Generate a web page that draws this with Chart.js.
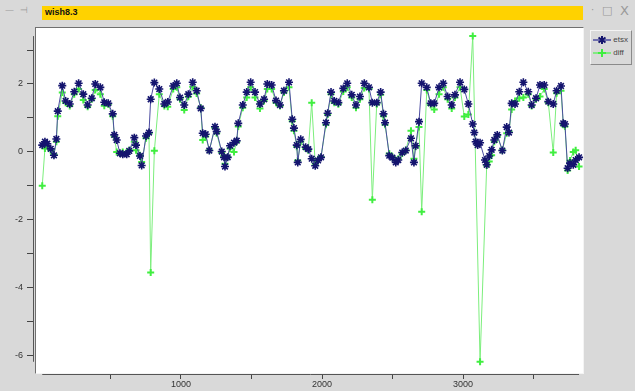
<!DOCTYPE html>
<html>
<head>
<meta charset="utf-8">
<script src="https://cdn.jsdelivr.net/npm/chart.js@4.4.1/dist/chart.umd.min.js"></script>
<style>
  html, body { margin:0; padding:0; }
  body { width:635px; height:391px; background:#d9d9d9; position:relative; overflow:hidden;
         font-family:"Liberation Sans Narrow","Arial Narrow","Liberation Sans",sans-serif; }
  #titlebar { position:absolute; left:42px; top:6px; width:541px; height:14px; background:#ffd200; }
  #titlebar span { position:absolute; left:3px; top:1px; font:bold 9px "Liberation Sans",sans-serif; color:#111; }
  .ctl { position:absolute; color:#9a9a9a; font-family:"DejaVu Sans",sans-serif; }
  #plotbg { position:absolute; left:35px; top:27px; width:547px; height:345px; background:#fff;
            border-left:1px solid #707070; border-top:1px solid #707070;
            border-right:1px solid #f4f4f4; border-bottom:1px solid #f4f4f4; }
  #legend { position:absolute; left:590px; top:30px; width:40px; height:33px;
            border-left:1px solid #f4f4f4; border-top:1px solid #f4f4f4;
            border-right:1px solid #8a8a8a; border-bottom:1px solid #8a8a8a; font-size:8px; color:#444; }
  #legend div { position:absolute; left:2px; height:10px; line-height:10px; }
  #legend svg { vertical-align:middle; }
  canvas { position:absolute; left:0; top:0; }
</style>
</head>
<body>
<div class="ctl" style="left:5px;top:5px;font-size:9px">&#8212;</div>
<div class="ctl" style="left:20px;top:5px;font-size:9px">&#8867;</div>
<div id="titlebar"><span>wish8.3</span></div>
<div class="ctl" style="left:591px;top:4px;font-size:10px">&#183;</div>
<div class="ctl" style="left:602px;top:4px;font-size:11px">&#9633;</div>
<div class="ctl" style="left:620px;top:3px;font-size:13px">X</div>
<div id="plotbg"></div>
<div id="legend">
  <div style="top:4px"><svg width="18" height="10"><line x1="0" y1="5" x2="18" y2="5" stroke="#4b4ba0" stroke-width="1.5"/><path d="M9 1 V9 M5.5 2.5 L12.5 7.5 M12.5 2.5 L5.5 7.5" stroke="#14146e" stroke-width="2"/></svg> etsx</div>
  <div style="top:17px"><svg width="18" height="10"><line x1="0" y1="5" x2="18" y2="5" stroke="#66ee66" stroke-width="1.5"/><path d="M9 1 V9 M5 5 H13" stroke="#40ee40" stroke-width="2"/></svg> diff</div>
</div>
<canvas id="mycanvas" width="635" height="391"></canvas>
<script>
// sample positions shared by both series
var xs = [16, 35, 52, 76, 99, 116, 126, 158, 182, 211, 243, 274, 307, 338, 367, 392, 428, 456, 484, 516,
          527, 544, 567, 587, 615, 633, 669, 681, 709, 721, 752, 773, 785, 811, 846, 882, 906, 945, 970, 993,
          1023, 1052, 1083, 1111, 1140, 1154, 1175, 1201, 1241, 1253, 1289, 1305, 1312, 1331, 1348, 1376, 1395, 1406, 1438, 1466,
          1494, 1525, 1560, 1589, 1612, 1643, 1674, 1702, 1730, 1766, 1789, 1801, 1821, 1828, 1849, 1884, 1903, 1927, 1952, 1972,
          1993, 2028, 2040, 2064, 2087, 2116, 2151, 2179, 2211, 2241, 2269, 2300, 2333, 2357, 2388, 2416, 2436, 2447, 2477, 2499,
          2523, 2541, 2569, 2594, 2631, 2652, 2664, 2688, 2707, 2743, 2771, 2796, 2830, 2860, 2891, 2920, 2943, 2979, 3009, 3038,
          3069, 3080, 3090, 3104, 3121, 3156, 3168, 3186, 3203, 3222, 3243, 3279, 3310, 3326, 3345, 3369, 3399, 3428, 3463, 3487,
          3518, 3546, 3576, 3605, 3640, 3664, 3695, 3711, 3723, 3742, 3759, 3782, 3799, 3823];

var etsx = [0.20, 0.30, 0.24, 0.09, -0.10, 0.38, 1.20, 1.95, 1.50, 1.41, 1.77, 2.02, 1.70, 1.38, 1.58, 2.00, 1.90, 1.46, 1.43, 1.12,
            0.50, 0.35, -0.04, -0.07, -0.07, 0.03, 0.42, 0.20, -0.12, -0.40, 0.47, 0.57, 1.55, 2.04, 1.85, 1.41, 1.47, 1.94, 2.02, 1.60,
            1.38, 1.70, 2.05, 1.80, 1.28, 0.55, 0.52, 0.04, 0.74, 0.60, 0.01, -0.16, -0.43, -0.16, 0.18, 0.27, 0.33, 0.84, 1.38, 1.76,
            2.05, 1.76, 1.41, 1.55, 2.00, 1.97, 1.51, 1.38, 1.80, 2.05, 0.96, 0.70, 0.20, -0.31, 0.37, 0.14, 0.08, -0.20, -0.41, -0.25,
            -0.16, 0.86, 1.14, 1.76, 1.50, 1.45, 1.87, 2.02, 1.68, 1.38, 1.63, 2.02, 1.90, 1.45, 1.45, 1.76, 1.12, 0.86, -0.11, -0.17,
            -0.31, -0.24, -0.02, 0.04, 0.40, -0.31, 0.18, 0.89, 2.02, 1.90, 1.43, 1.43, 1.90, 2.02, 1.63, 1.38, 1.68, 2.05, 1.84, 1.41,
            0.82, 0.57, 0.30, 0.20, 0.27, -0.24, -0.38, -0.12, 0.06, 0.35, 0.50, 0.04, 0.73, 0.57, 1.43, 1.41, 1.77, 2.05, 1.77, 1.38,
            1.58, 1.97, 1.97, 1.48, 1.41, 1.80, 1.94, 0.84, 0.82, -0.48, -0.33, -0.38, -0.24, -0.16];

var diff = [-1.00, 0.10, 0.18, 0.05, -0.08, 0.30, 1.05, 1.75, 1.45, 1.35, 1.70, 1.85, 1.53, 1.33, 1.55, 1.82, 1.70, 1.36, 1.40, 1.05,
            0.45, 0.00, -0.05, 0.00, -0.02, 0.05, 0.30, 0.05, -0.10, -0.30, 0.40, 0.55, -3.55, 0.03, 1.70, 1.35, 1.33, 1.85, 1.90, 1.55,
            1.23, 1.62, 1.92, 1.72, 1.30, 0.35, 0.45, 0.05, 0.70, 0.55, -0.02, -0.12, -0.35, -0.15, 0.10, 0.00, 0.30, 0.75, 1.30, 1.60,
            1.90, 1.60, 1.28, 1.50, 1.85, 1.85, 1.45, 1.35, 1.75, 1.90, 0.90, 0.62, 0.15, -0.25, 0.30, 0.10, 0.05, 1.45, -0.35, -0.22,
            -0.15, 0.80, 1.10, 1.70, 1.45, 1.40, 1.78, 1.90, 1.60, 1.30, 1.55, 1.88, 1.85, -1.41, 1.40, 1.68, 1.05, 0.80, -0.05, -0.15,
            -0.25, -0.20, -0.05, 0.05, 0.62, -0.20, 0.15, 0.73, -1.76, 1.82, 1.38, 1.25, 1.70, 1.90, 1.55, 1.28, 1.60, 1.90, 1.04, 1.10,
            3.41, null, null, null, -6.18, null, -0.40, -0.28, -0.10, 0.30, 0.45, 0.05, 0.55, 0.60, 1.25, 1.50, 1.58, 1.60, 1.70, 1.35,
            1.55, 1.63, 1.85, 1.45, -0.02, 1.73, 1.80, 0.80, 0.75, -0.55, -0.25, 0.00, 0.05, -0.43];

var xTickValues = [500, 1000, 1500, 2000, 2500, 3000, 3500];
var xTickLabels = ['', '1000', '', '2000', '', '3000', ''];
var yTickValues = [-6, -5, -4, -3, -2, -1, 0, 1, 2, 3];
var yTickLabels = ['-6', '', '-4', '', '-2', '', '0', '', '2', ''];

function pts(ys) {
    var out = [];
    for (var i = 0; i < xs.length; i++) out.push({ x: xs[i], y: ys[i] });
    return out;
}

var tickFont = { family: "'Liberation Sans Narrow','Arial Narrow',sans-serif", size: 9 };

// axis lines only span the data range, like the original widget
var axisLines = {
    id: 'axisLines',
    beforeDatasetsDraw: function(chart) {
        var c = chart.ctx, a = chart.chartArea, sx = chart.scales.x, sy = chart.scales.y;
        var all = etsx.concat(diff).filter(function(v) { return v !== null; });
        c.save();
        c.strokeStyle = '#555';
        c.lineWidth = 1;
        c.beginPath();
        c.moveTo(a.left + 0.5, sy.getPixelForValue(Math.max.apply(null, all)));
        c.lineTo(a.left + 0.5, sy.getPixelForValue(Math.min.apply(null, all)));
        c.moveTo(sx.getPixelForValue(xs[0]), a.bottom + 0.5);
        c.lineTo(sx.getPixelForValue(xs[xs.length - 1]), a.bottom + 0.5);
        c.stroke();
        c.restore();
    }
};

var ctx = document.getElementById('mycanvas');
var chart = new Chart(ctx, {
    type: 'line',
    data: {
        datasets: [
            {
                label: 'etsx',
                data: pts(etsx),
                borderColor: '#4b4ba0',
                borderWidth: 1,
                pointStyle: 'star',
                pointRadius: 4,
                pointBorderWidth: 1.6,
                pointBorderColor: '#14146e',
                pointBackgroundColor: '#14146e',
                tension: 0
            },
            {
                label: 'diff',
                data: pts(diff),
                spanGaps: true,
                borderColor: '#7cee7c',
                borderWidth: 1,
                pointStyle: 'cross',
                pointRadius: 3.5,
                pointBorderWidth: 2,
                pointBorderColor: '#40ee40',
                pointBackgroundColor: '#40ee40',
                tension: 0
            }
        ]
    },
    options: {
        responsive: false,
        animation: false,
        devicePixelRatio: 1,
        clip: false,
        layout: { padding: { top: 28, right: 52, left: 0, bottom: 0 } },
        plugins: { legend: { display: false }, tooltip: { enabled: false } },
        scales: {
            x: {
                type: 'linear',
                min: -49.6,
                max: 3851,
                border: { display: false },
                grid: { drawOnChartArea: false, drawTicks: true, tickLength: 5, tickColor: '#444' },
                ticks: {
                    autoSkip: false, maxRotation: 0, padding: 0,
                    font: tickFont, color: '#333',
                    callback: function(v, i) { return xTickLabels[i]; }
                },
                afterBuildTicks: function(s) { s.ticks = xTickValues.map(function(v) { return { value: v }; }); },
                afterFit: function(s) { s.height = 17; }
            },
            y: {
                type: 'linear',
                min: -6.54,
                max: 3.648,
                border: { display: false },
                grid: { drawOnChartArea: false, drawTicks: true, tickLength: 6, tickColor: '#444' },
                ticks: {
                    autoSkip: false, padding: 4,
                    font: tickFont, color: '#333',
                    callback: function(v, i) { return yTickLabels[i]; }
                },
                afterBuildTicks: function(s) { s.ticks = yTickValues.map(function(v) { return { value: v }; }); },
                afterFit: function(s) { s.width = 33; }
            }
        }
    },
    plugins: [axisLines]
});
</script>
</body>
</html>
